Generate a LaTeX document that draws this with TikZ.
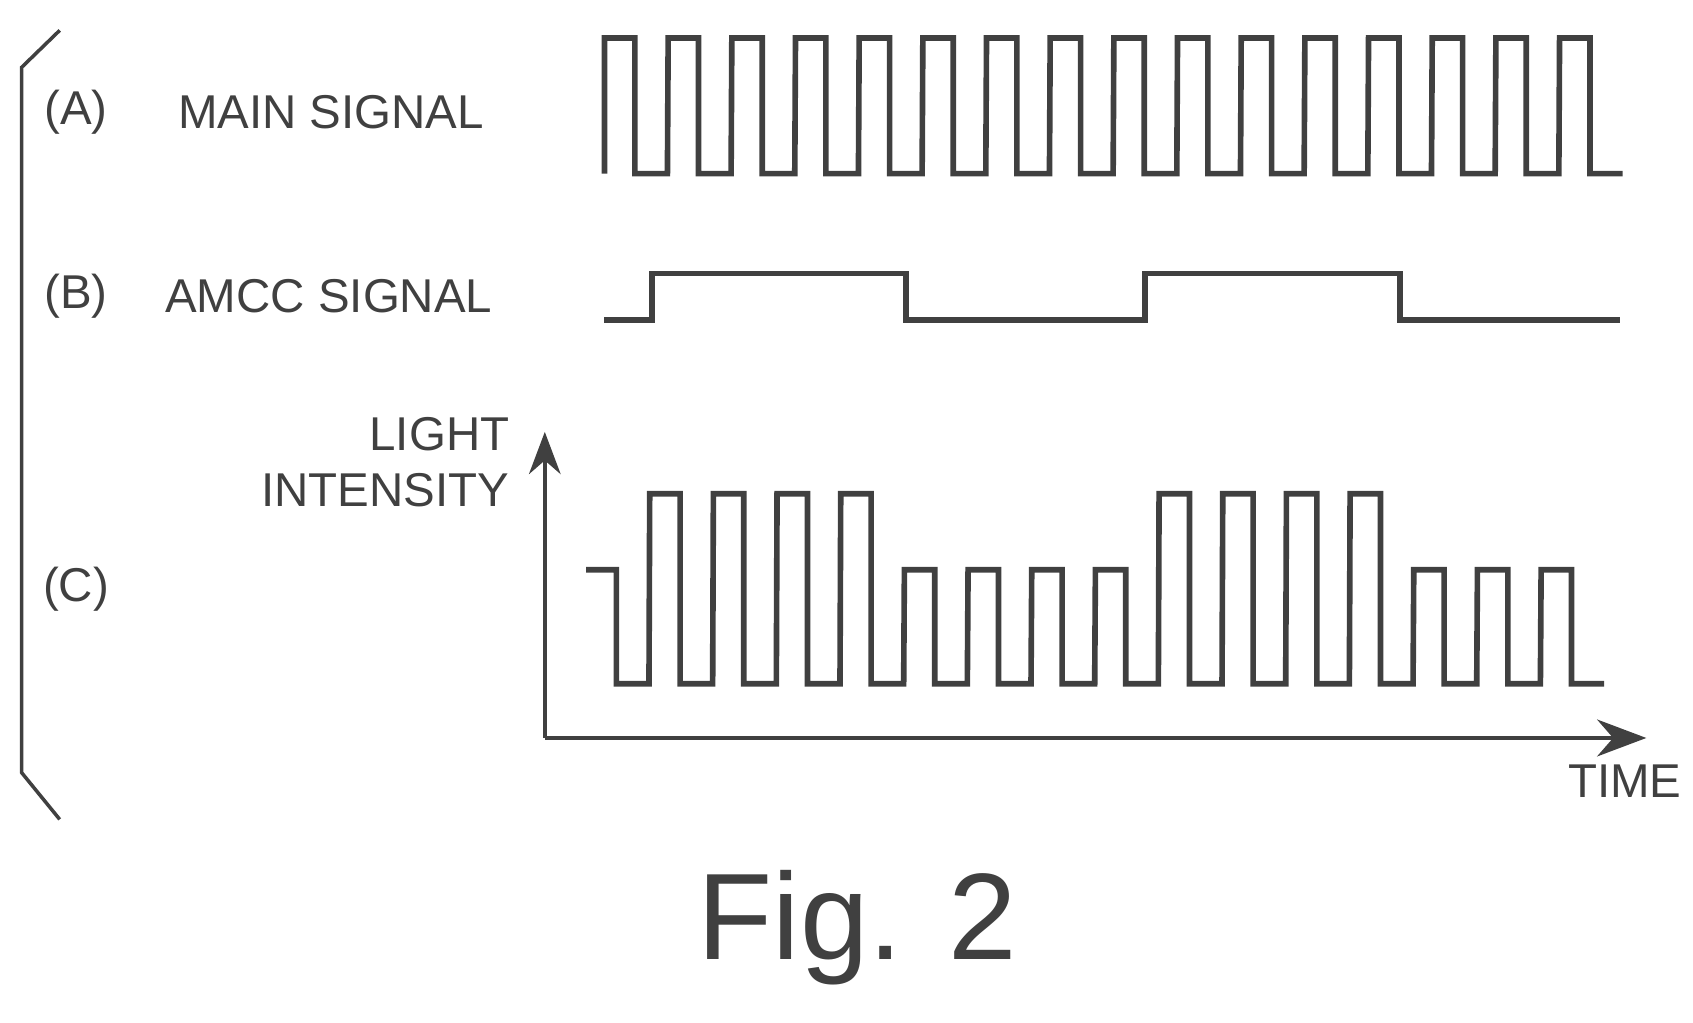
\documentclass[tikz,border=0pt]{standalone}
\usepackage{fontspec}
\setmainfont{Liberation Sans}
\usetikzlibrary{arrows.meta}
\tikzset{sig/.style={draw=black!75,line width=1.6pt},
  lbl/.style={font=\fontsize{13.5}{16}\selectfont,text=black!75,inner sep=0pt}}
\begin{document}
\begin{tikzpicture}[x=0.01085cm,y=-0.01085cm]
\useasboundingbox (0,0) rectangle (1560,942);
% bracket
\draw[sig,line width=1pt] (55,28)--(20,62)--(20,712)--(55,755);
% labels
\node[lbl] (la) at (70,103) {(A)};
\node[lbl] (ma) at (305,103) {MAIN SIGNAL};
\node[lbl] (lb) at (70,273) {(B)};
\node[lbl] (mb) at (303,273) {AMCC SIGNAL};
\node[lbl] (lc) at (70,543) {(C)};
\node[lbl,anchor=east,align=right] (li) at (470,426) {LIGHT\\INTENSITY};
\node[lbl,anchor=east] (ti) at (1550,720) {TIME};
\node[font=\fontsize{35}{38}\selectfont,text=black!75] (fig) at (790,855) {Fig. 2};
% (A) main signal
\draw[sig] (557,160)
  \foreach \i in {0,...,15}{ -- ({557+58.67*\i},35) -- ({585+58.67*\i},35) -- ({585+58.67*\i},160) -- ({615+58.67*\i},160) }
  -- (1493,160);
% (B) amcc signal
\draw[sig] (557,295)--(601,295)--(601,252)--(835,252)--(835,295)--(1055,295)--(1055,252)--(1290,252)--(1290,295)--(1493,295);
% (C) axes
\coordinate (o) at (502,680);
\coordinate (yt) at (502,398);
\coordinate (xt) at (1517,680);
\draw[sig,line width=1pt,-{Stealth[length=12pt]}] (o)--(yt);
\draw[sig,line width=1pt,-{Stealth[length=14pt]}] (o)--(xt);
% (C) light intensity
\draw[sig] (540,525)
  \foreach \i/\h in {0/525,1/455,2/455,3/455,4/455,5/525,6/525,7/525,8/525,9/455,10/455,11/455,12/455,13/525,14/525,15/525}{ -- ({540+58.67*\i},\h) -- ({568+58.67*\i},\h) -- ({568+58.67*\i},630) -- ({598+58.67*\i},630) }
  -- (1478,630);
\end{tikzpicture}
\end{document}
